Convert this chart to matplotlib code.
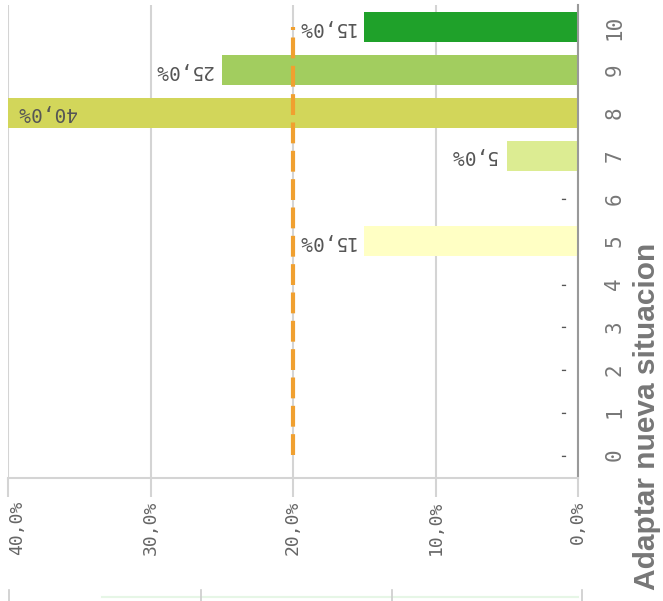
import matplotlib
matplotlib.use("Agg")
import matplotlib.pyplot as plt
from matplotlib.lines import Line2D

categories = [0, 1, 2, 3, 4, 5, 6, 7, 8, 9, 10]
values = [0, 0, 0, 0, 0, 15, 0, 5, 40, 25, 15]
colors = ["#ffffc4", "#ffffc4", "#ffffc4", "#ffffc4", "#ffffc4", "#ffffc4",
          "#e6f0a8", "#dcec92", "#d2d65a", "#a2cd5f", "#1fa12a"]
reference_value = 20
x_ticks = [0, 10, 20, 30, 40]
x_tick_labels = ["0,0%", "10,0%", "20,0%", "30,0%", "40,0%"]
title = "Adaptar nueva situacion"

fig = plt.figure(figsize=(6.63, 6.01), dpi=100)
ax = fig.add_axes([8/663, 1-478/601, (578-8)/663, (478-5)/601])

ax.barh(categories, values, height=0.7, color=colors, zorder=2)
ax.set_xlim(40, 0)
ax.set_ylim(-0.54, 10.52)

ax.set_xticks(x_ticks)
ax.set_xticklabels(x_tick_labels, rotation=90, family="DejaVu Sans Mono",
                   fontsize=13, color="#666666", va="top")
ax.get_xticklabels()[-1].set_ha("left")
ax.grid(axis="x", color="#d4d4d4", lw=1.5, zorder=0)
ax.tick_params(axis="x", length=14, width=1.5, color="#d4d4d4", pad=2)

ax.yaxis.tick_right()
ax.set_yticks(categories)
ax.set_yticklabels([str(c) for c in categories], rotation=90,
                   family="DejaVu Sans Mono", fontsize=15, color="#777777",
                   va="center", ha="left")
ax.tick_params(axis="y", length=0, pad=19)

for s in ["left", "top"]:
    ax.spines[s].set_visible(False)
ax.spines["right"].set_color("#999999")
ax.spines["right"].set_linewidth(1.5)
ax.spines["bottom"].set_color("#d4d4d4")
ax.spines["bottom"].set_linewidth(1.5)

# reference line
ax.plot([reference_value, reference_value], [categories[0], categories[-1]],
        color="#f0a030", lw=3, dashes=(5, 1.8), zorder=3)

# bar labels
for c, v in zip(categories, values):
    if v == 0:
        ax.annotate("-", (0, c), xytext=(-10, 0), textcoords="offset points",
                    rotation=180, ha="right", va="center",
                    family="DejaVu Sans Mono", fontsize=12, color="#555555")
    elif v >= 35:
        ax.annotate(f"{v:.1f}%".replace(".", ","), (40, c), xytext=(7, 0),
                    textcoords="offset points", rotation=180, ha="left",
                    va="center", family="DejaVu Sans Mono", fontsize=14,
                    color="#555555", zorder=4)
    else:
        ax.annotate(f"{v:.1f}%".replace(".", ","), (v, c), xytext=(-7, 0),
                    textcoords="offset points", rotation=180, ha="right",
                    va="center", family="DejaVu Sans Mono", fontsize=14,
                    color="#555555", zorder=4)

fig.text(647/663, 1-590/601, title, rotation=90, ha="center", va="bottom",
         family="Liberation Sans", fontweight="bold", fontsize=21.5,
         color="#777777")

# faint remnant strip at the bottom
fig.add_artist(Line2D([102/663, 578/663], [1-597/601, 1-597/601],
                      transform=fig.transFigure, color="#e6f6e6", lw=1.5))
for xp in [9, 201, 392, 582]:
    fig.add_artist(Line2D([xp/663, xp/663], [0, 1-590/601],
                          transform=fig.transFigure, color="#cccccc", lw=1.2))

fig.savefig("out.png", dpi=100)
